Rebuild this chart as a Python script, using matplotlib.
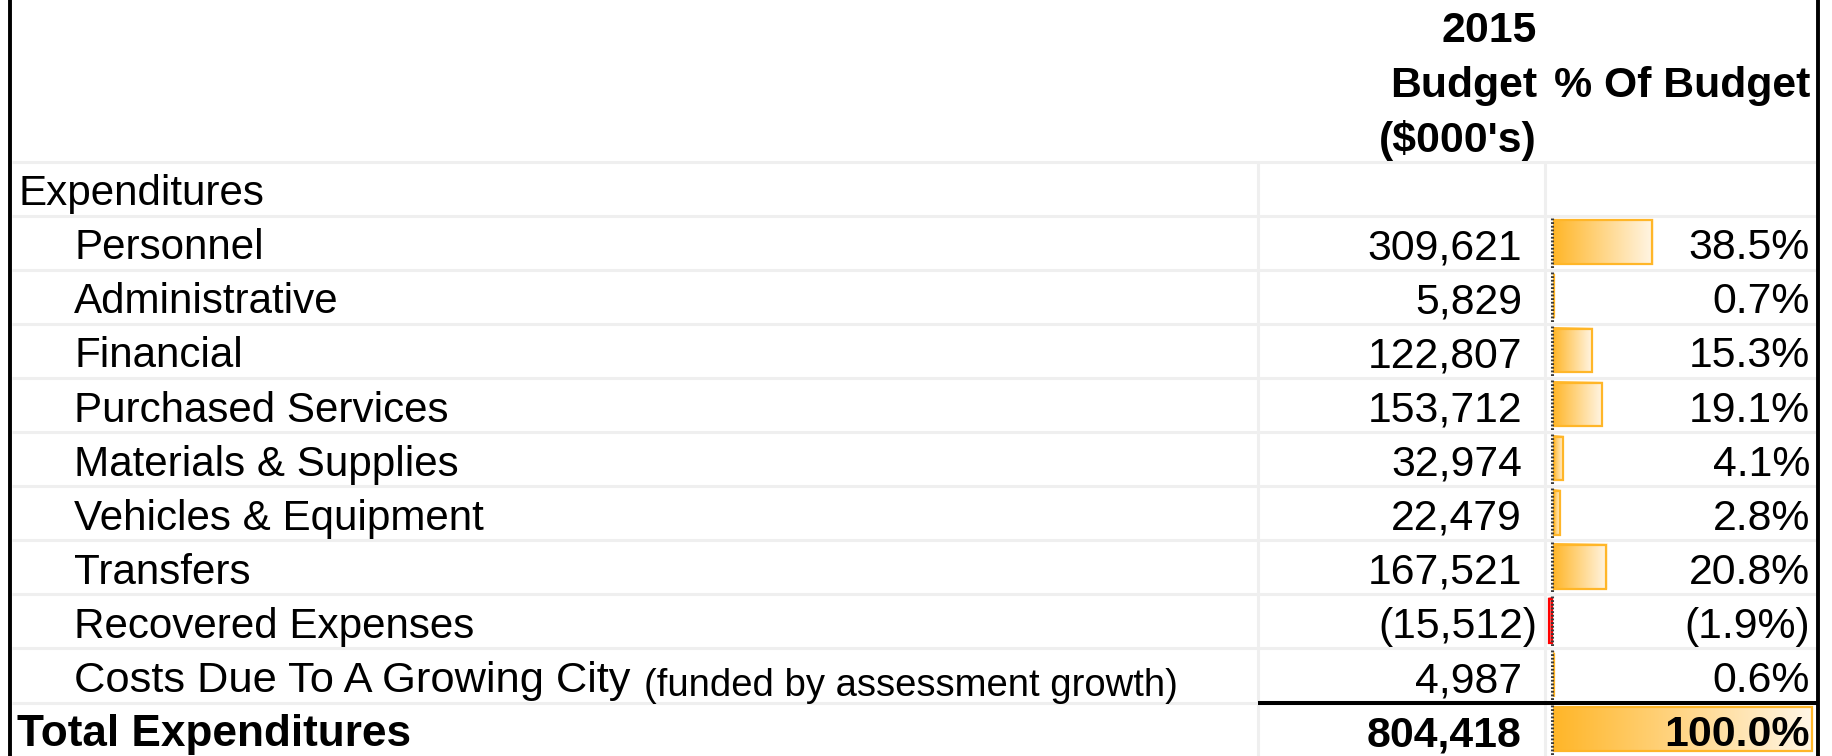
import numpy as np
import matplotlib
matplotlib.use("Agg")
import matplotlib.pyplot as plt
import matplotlib.colors as mcolors
from matplotlib.patches import Rectangle

plt.rcParams['font.family'] = ['Liberation Sans', 'DejaVu Sans']

# Data
labels = ["Personnel", "Administrative", "Financial", "Purchased Services",
          "Materials & Supplies", "Vehicles & Equipment", "Transfers",
          "Recovered Expenses", "Costs Due To A Growing City"]
label_note = "(funded by assessment growth)"
budget = [309621, 5829, 122807, 153712, 32974, 22479, 167521, -15512, 4987]
pct = [38.5, 0.7, 15.3, 19.1, 4.1, 2.8, 20.8, -1.9, 0.6]
total_budget = 804418
total_pct = 100.0
header_budget = ["2015", "Budget", "($000's)"]
header_pct = "% Of Budget"

W, H = 1832, 756
fig = plt.figure(figsize=(W / 100, H / 100), dpi=100)

# layout (pixels)
top0, row_h = 161.5, 54.1
col1, col2 = 1257.5, 1544.5
left_b, right_b = 10, 1817.5
axis_x, bar_px = 1553, 260
fs = 30.8
fs_lab = 30.3
grid_c = '#EFEFEF'
bar_c = '#FFB628'
neg_c = '#FF0000'

def row_top(i):
    return top0 + i * row_h

# data bars in their own axes (x in percent), drawn under the table text
axb = fig.add_axes([axis_x / W, 0, bar_px / W, 1])
axb.set_zorder(1)
axb.axis('off')
px = 100 / bar_px

ax = fig.add_axes([0, 0, 1, 1])
ax.set_zorder(2)
ax.patch.set_visible(False)
ax.set_xlim(0, W)
ax.set_ylim(H, 0)
ax.axis('off')

def data_bar(v, i, color):
    y0 = row_top(i) + 4
    y1 = row_top(i + 1) - 5
    g = np.linspace(0, 1, 256)
    c0 = np.array(mcolors.to_rgb(color))
    c1 = np.array([1.0, 0.965, 0.905]) if color == bar_c else np.array([1.0, 0.9, 0.9])
    img = c0[None, None, :] * (1 - g)[None, :, None] + c1[None, None, :] * g[None, :, None]
    if v < 0:
        img = img[:, ::-1, :]
    x0, x1 = min(0, v), max(0, v)
    im = axb.imshow(img, extent=(x0, x1, y1, y0), aspect='auto', interpolation='bilinear',
                    zorder=2)
    im.set_clip_on(False)
    r = Rectangle((x0 + 0.7 * px, y0 + 0.7), (x1 - x0) - 1.4 * px, (y1 - y0) - 1.4,
                  fill=False, edgecolor=color, lw=1.6, zorder=3, clip_on=False)
    axb.add_patch(r)

for i, p in enumerate(pct):
    data_bar(p, i + 1, bar_c if p >= 0 else neg_c)
data_bar(total_pct, 10, bar_c)
axb.set_xlim(0, 100)
axb.set_ylim(H, 0)

# bar axis line
for i in range(1, 11):
    axb.plot([-1.5 * px] * 2, [row_top(i) + 2, row_top(i + 1) - 1], color='#3a3a3a', lw=2.2,
             ls=(0, (0.6, 0.6)), zorder=4, clip_on=False, solid_capstyle='butt')

# gridlines
for k in range(11):
    ax.plot([left_b + 2, right_b - 2], [row_top(k)] * 2, color=grid_c, lw=2.2, zorder=1,
            solid_capstyle='butt')
for x in (col1, col2):
    ax.plot([x, x], [top0, H], color=grid_c, lw=2.2, zorder=1, solid_capstyle='butt')

# borders
ax.plot([left_b, left_b], [0, H], color='black', lw=2.8, zorder=5, solid_capstyle='butt')
ax.plot([right_b, right_b], [0, H], color='black', lw=2.8, zorder=5, solid_capstyle='butt')
ax.plot([col1, right_b], [row_top(10)] * 2, color='black', lw=2.9, zorder=5,
        solid_capstyle='butt')

# header
hb = [42, 97, 152]
for s, yb in zip(header_budget, hb):
    ax.text(1537, yb, s, ha='right', va='baseline', fontsize=fs, fontweight='bold')
ax.text(1810, hb[1], header_pct, ha='right', va='baseline', fontsize=fs, fontweight='bold')

def fmt_num(v):
    return f"({abs(v):,})" if v < 0 else f"{v:,}"

def fmt_pct(v):
    return f"({abs(v):.1f}%)" if v < 0 else f"{v:.1f}%"

base_off = 10.5
ax.text(18, row_top(1) - base_off, "Expenditures", ha='left', va='baseline', fontsize=fs_lab)

texts = []
for i, (lab, b, p) in enumerate(zip(labels, budget, pct)):
    yb = row_top(i + 2) - base_off
    t = ax.text(74, yb, lab, ha='left', va='baseline',
                fontsize=31.2 if i == len(labels) - 1 else fs_lab)
    texts.append(t)
    ax.text(1522 if b >= 0 else 1537, yb, fmt_num(b), ha='right', va='baseline', fontsize=fs,
            zorder=6)
    ax.text(1810, yb, fmt_pct(p), ha='right', va='baseline', fontsize=fs, zorder=6)

yb = row_top(11) - base_off
ax.text(17, yb, "Total Expenditures", ha='left', va='baseline', fontsize=31.8,
        fontweight='bold')
ax.text(1522, yb, fmt_num(total_budget), ha='right', va='baseline', fontsize=fs,
        fontweight='bold', zorder=6)
ax.text(1810, yb, fmt_pct(total_pct), ha='right', va='baseline', fontsize=fs,
        fontweight='bold', zorder=6)

# note after the last item label
renderer = fig.canvas.get_renderer()
bb = texts[-1].get_window_extent(renderer)
x_end = bb.x1 * W / fig.bbox.width
ax.text(x_end + 13, row_top(10) - base_off + 4, label_note, ha='left', va='baseline',
        fontsize=27.5)

fig.savefig("out.png", dpi=100)
